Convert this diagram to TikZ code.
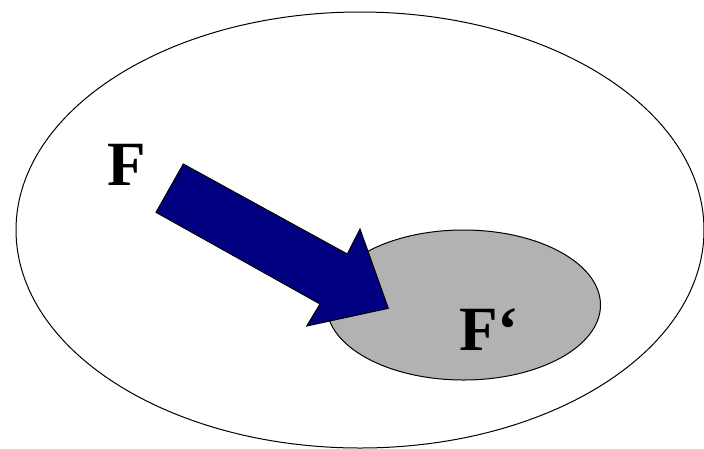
\documentclass[tikz,border=0pt]{standalone}
\usepackage{fontspec}
\setmainfont{Liberation Serif}
\definecolor{arrowblue}{HTML}{000080}
\definecolor{setgray}{HTML}{B2B2B2}
\begin{document}
\begin{tikzpicture}[x=1pt,y=-1pt,
  outline/.style={draw=black,line width=1pt},
  label/.style={inner sep=0pt,anchor=base west,font=\fontsize{63}{63}\selectfont\bfseries}]
\useasboundingbox (0,0) rectangle (704,448);
\begin{scope}
\clip (0,0) rectangle (704,448);
\draw[outline,fill=white] (360,230) ellipse [x radius=344, y radius=218];
\draw[outline,fill=setgray] (463.5,305) ellipse [x radius=137, y radius=75];
\draw[outline,fill=arrowblue,line join=miter]
  (183.3,164) -- (156,212.3) -- (320,304) -- (306.7,326) -- (388.3,308.3)
  -- (360,229) -- (347.3,254) -- cycle;
\end{scope}
\node[label] (F) at (107,185) {F};
\node[label] (Fp) at (459,350) {F‘};
\end{tikzpicture}
\end{document}
